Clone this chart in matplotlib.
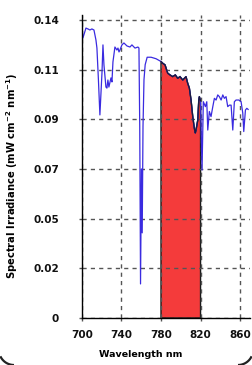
import numpy as np
import matplotlib
matplotlib.use("Agg")
import matplotlib.pyplot as plt
from matplotlib.lines import Line2D

wavelength = [700.0, 701.0, 704.1, 706.1, 708.1, 710.1, 712.2, 714.2, 715.2, 716.7,
              718.2, 720.3, 721.3, 722.3, 724.3, 725.3, 726.3, 727.3, 729.4, 730.4,
              731.4, 733.4, 735.4, 736.5, 737.5, 738.5, 740.5, 742.5, 745.6, 748.6,
              750.6, 753.7, 756.7, 757.7, 758.5, 759.3, 760.2, 761.0, 761.8, 762.8,
              764.0, 766.0, 770.0, 775.0, 780.0, 781.7, 784.1, 786.8, 789.1,
              791.8, 794.5, 796.9, 799.2, 802.0, 803.6, 805.3, 807.0, 808.7, 810.4,
              812.1, 813.7, 814.7, 815.4, 817.2, 818.2, 818.8, 820.0, 821.5, 822.8,
              824.9, 826.3, 827.3, 828.9, 830.6, 832.4, 834.0, 835.7, 837.4, 839.0,
              840.8, 842.5, 844.1, 845.8, 847.5, 849.2, 850.9, 852.6, 854.2, 855.9,
              858.7, 861.0, 862.7, 863.7, 865.4, 866.8, 868.1]
irradiance = [0.1362, 0.1315, 0.1362, 0.1358, 0.1353, 0.1358, 0.1353, 0.1306, 0.1268, 0.1120,
              0.0954, 0.1151, 0.1283, 0.1189, 0.1085, 0.1080, 0.1118, 0.1085, 0.1128, 0.1109,
              0.1203, 0.1273, 0.1259, 0.1268, 0.1250, 0.1259, 0.1283, 0.1292, 0.1278, 0.1273,
              0.1283, 0.1268, 0.1273, 0.1268, 0.0900, 0.0160, 0.0700, 0.0400, 0.0900, 0.1120,
              0.1190, 0.1225, 0.1225, 0.1218, 0.1205, 0.1197, 0.1189, 0.1150, 0.1142,
              0.1134, 0.1142, 0.1126, 0.1134, 0.1118, 0.1126, 0.1134, 0.1103, 0.1080, 0.1024,
              0.0947, 0.0892, 0.0869, 0.0883, 0.0930, 0.1024, 0.1040, 0.1020, 0.0695, 0.1016,
              0.0993, 0.1016, 0.0883, 0.0970, 0.0946, 0.0993, 0.1032, 0.1024, 0.1048, 0.1040,
              0.1024, 0.1048, 0.1032, 0.1040, 0.0993, 0.1000, 0.1000, 0.0883, 0.1016, 0.1024,
              0.1024, 0.1016, 0.0963, 0.0876, 0.0977, 0.0985, 0.0980]

band_low, band_high = 780, 820
x_ticks = [700, 740, 780, 820, 860]
y_ticks = [0, 0.14/6, 2*0.14/6, 3*0.14/6, 4*0.14/6, 5*0.14/6, 0.14]
y_tick_labels = ["0", "0.02", "0.05", "0.07", "0.09", "0.11", "0.14"]

wl = np.array(wavelength)
irr = np.array(irradiance)

W, H = 252, 365
fig = plt.figure(figsize=(W / 100, H / 100), dpi=100)
ax = fig.add_axes([0.325, 0.1288, 0.667, 0.831])

mask = (wl >= band_low) & (wl <= band_high)
bx = wl[mask]
by = irr[mask]
poly_x = np.concatenate([[bx[0]], bx, [bx[-1]]])
poly_y = np.concatenate([[0], by, [0]])
ax.fill(poly_x, poly_y, facecolor="#f43b3b", edgecolor="#1a1a1a", linewidth=1.0, zorder=2)

ax.plot(wl, irr, color="#3a2be0", linewidth=0.9, zorder=3)
ax.plot(bx, by, color="#1a1a3a", linewidth=0.9, zorder=4)

ax.set_xlim(700, 870)
ax.set_ylim(0, 0.1425)
ax.set_xticks(x_ticks)
ax.set_yticks(y_ticks)
ax.set_yticklabels(y_tick_labels)

for s in ["top", "right"]:
    ax.spines[s].set_visible(False)
for s in ["left", "bottom"]:
    ax.spines[s].set_color("black")
    ax.spines[s].set_linewidth(1.0)
    ax.spines[s].set_zorder(6)

ax.grid(True, color="#555555", linestyle=(0, (3, 3)), linewidth=1.0, zorder=5)
ax.set_axisbelow(False)
for gl in ax.get_xgridlines() + ax.get_ygridlines():
    gl.set_zorder(5)

ax.tick_params(axis="both", length=2.5, width=1, color="#555555", labelsize=7.5, pad=6)
for lab in ax.get_xticklabels() + ax.get_yticklabels():
    lab.set_fontweight("bold")
    lab.set_color("#111111")
ax.tick_params(axis="y", pad=14)

ax.set_xlabel("Wavelength nm", fontsize=6.8, fontweight="bold")
ax.xaxis.set_label_coords(0.351, -0.105)
ax.set_ylabel("Spectral Irradiance (mW cm$^{\\mathbf{-2}}$ nm$^{\\mathbf{-1}}$)",
              fontsize=7.2, fontweight="bold")
ax.yaxis.set_label_coords(-0.37, 0.468)

# rounded bottom corners of the surrounding panel (pixel geometry, kept inside the figure)
t = np.linspace(np.pi, 1.5 * np.pi, 30)
r = 15.0
lx = 14.0 + r * np.cos(t)
ly = 15.0 + r * np.sin(t)
keep = lx >= 0.3
lx, ly = lx[keep], ly[keep]
rx = W - lx
for xs, ys in [(lx, ly), (rx, ly)]:
    fig.lines.append(Line2D(xs / W, ys / H, transform=fig.transFigure,
                            color="#222222", linewidth=1.6, solid_capstyle="butt"))

fig.savefig("out.png", dpi=100)
